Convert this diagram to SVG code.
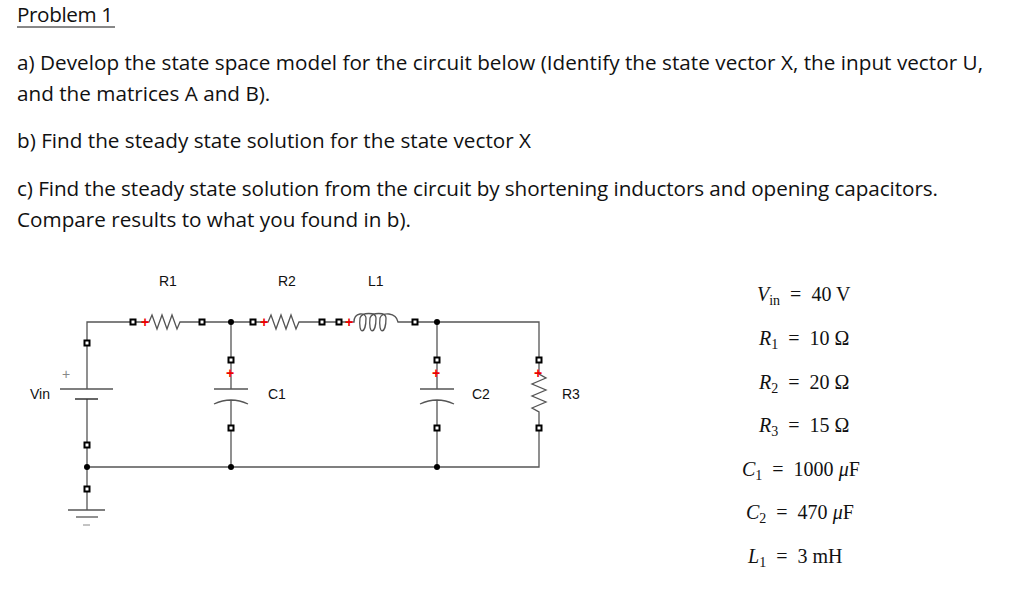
<svg xmlns="http://www.w3.org/2000/svg" width="1024" height="594" viewBox="0 0 1024 594">
<style>
.t{font-family:"Open Sans","Liberation Sans",sans-serif;font-size:20.7px;fill:#111}
.l{font-family:"Liberation Sans",Arial,sans-serif;font-size:14px;fill:#111}
.m{font-family:"Liberation Serif","Times New Roman",serif;font-size:20px;fill:#111;white-space:pre}
.i{font-style:italic}
.w{stroke:#555;stroke-width:1.3;fill:none}
.p{fill:#e00;font-family:"Liberation Sans",sans-serif;font-size:14px;font-weight:bold}
</style>
<defs>
<g id="sq"><rect x="-3.5" y="-3.5" width="7" height="7" fill="#000"/><rect x="-1.5" y="-1.5" width="3" height="3" fill="#fff"/></g>
</defs>
<rect width="1024" height="594" fill="#fff"/>
<g id="text">
<text class="t" x="17" y="22" textLength="96">Problem 1</text>
<line x1="17" y1="27" x2="115" y2="27" stroke="#111" stroke-width="1"/>
<text class="t" x="17" y="70" textLength="966">a) Develop the state space model for the circuit below (Identify the state vector X, the input vector U,</text>
<text class="t" x="17" y="101">and the matrices A and B).</text>
<text class="t" x="17" y="148" textLength="514">b) Find the steady state solution for the state vector X</text>
<text class="t" x="17" y="196" textLength="921">c) Find the steady state solution from the circuit by shortening inductors and opening capacitors.</text>
<text class="t" x="17" y="227">Compare results to what you found in b).</text>
</g>
<g id="connectors">
<path class="w" d="M87 343 V322 H133 M202 322 H253 M322 322 H339 M415 322 H539 V360 M539 428 V467 H87 V489 M87 343 V389 M87 399 V445 V467"/>
<path class="w" d="M87 489 V510 M231 322 V360 M231 428 V467 M437 322 V360 M437 428 V467"/>
</g>
<g id="Vin">
<line x1="60" y1="389" x2="113" y2="389" stroke="#555" stroke-width="1.3"/>
<line x1="75" y1="399" x2="98" y2="399" stroke="#333" stroke-width="1.5"/>
<text class="l" x="62" y="379" style="fill:#888">+</text>
<text class="l" x="30" y="399">Vin</text>
<use href="#sq" x="87" y="343"/><use href="#sq" x="87" y="445"/><use href="#sq" x="87" y="489"/>
<circle cx="87" cy="467" r="3" fill="#000"/>
</g>
<g id="ground">
<line x1="68" y1="510" x2="105" y2="510" stroke="#555" stroke-width="1.3"/>
<line x1="76" y1="517" x2="98" y2="517" stroke="#555" stroke-width="1.3"/>
<line x1="83" y1="525" x2="90" y2="525" stroke="#888" stroke-width="1"/>
</g>
<g id="R1">
<path class="w" d="M133 322 H149 L152 315 L157 329 L162 315 L167 329 L172 315 L177 329 L180 322 H202"/>
<use href="#sq" x="133" y="322"/><use href="#sq" x="202" y="322"/>
<text class="p" x="141" y="327">+</text>
<text class="l" x="159" y="286">R1</text>
</g>
<circle cx="231" cy="322" r="3" fill="#000"/>
<circle cx="231" cy="467" r="3" fill="#000"/>
<g id="R2">
<path class="w" d="M253 322 H268 L271 315 L276 329 L281 315 L286 329 L291 315 L296 329 L299 322 H322"/>
<use href="#sq" x="253" y="322"/><use href="#sq" x="322" y="322"/>
<text class="p" x="260" y="327">+</text>
<text class="l" x="278" y="286">R2</text>
</g>
<g id="L1">
<path class="w" d="M339 322 H354 C354 312 366 312 366 318 C366 335 358 335 360 318 C362 312 376 312 376 318 C376 335 368 335 370 318 C372 312 386 312 386 318 C386 335 378 335 380 318 C382 312 396 312 398 322 H415"/>
<use href="#sq" x="339" y="322"/><use href="#sq" x="415" y="322"/>
<text class="p" x="345" y="327">+</text>
<text class="l" x="368" y="286">L1</text>
</g>
<circle cx="437" cy="322" r="3" fill="#000"/>
<circle cx="437" cy="467" r="3" fill="#000"/>
<g id="C1">
<path class="w" d="M231 360 V389 M214 389 H248 M214 404 Q231 396 248 404 M231 400 V428"/>
<use href="#sq" x="231" y="360"/><use href="#sq" x="231" y="428"/>
<text class="p" x="226" y="378">+</text>
<text class="l" x="268" y="399">C1</text>
</g>
<g id="C2">
<path class="w" d="M437 360 V389 M420 389 H454 M420 404 Q437 396 454 404 M437 400 V428"/>
<use href="#sq" x="437" y="360"/><use href="#sq" x="437" y="428"/>
<text class="p" x="432" y="378">+</text>
<text class="l" x="472" y="399">C2</text>
</g>
<g id="R3">
<path class="w" d="M539 360 V374 L546 378 L532 384 L546 390 L532 396 L546 402 L532 408 L539 412 V428"/>
<use href="#sq" x="539" y="360"/><use href="#sq" x="539" y="428"/>
<text class="p" x="534" y="378">+</text>
<text class="l" x="562" y="399">R3</text>
</g>
<g id="values">
<text class="m" x="757" y="301"><tspan class="i">V</tspan><tspan font-size="14" dy="4">in</tspan><tspan dy="-4">  =  40 V</tspan></text>
<text class="m" x="759" y="345"><tspan class="i">R</tspan><tspan font-size="14" dy="4">1</tspan><tspan dy="-4">  =  10 Ω</tspan></text>
<text class="m" x="759" y="389"><tspan class="i">R</tspan><tspan font-size="14" dy="4">2</tspan><tspan dy="-4">  =  20 Ω</tspan></text>
<text class="m" x="759" y="432"><tspan class="i">R</tspan><tspan font-size="14" dy="4">3</tspan><tspan dy="-4">  =  15 Ω</tspan></text>
<text class="m" x="742" y="476"><tspan class="i">C</tspan><tspan font-size="14" dy="4">1</tspan><tspan dy="-4">  =  1000 </tspan><tspan class="i">μ</tspan><tspan>F</tspan></text>
<text class="m" x="746" y="519"><tspan class="i">C</tspan><tspan font-size="14" dy="4">2</tspan><tspan dy="-4">  =  470 </tspan><tspan class="i">μ</tspan><tspan>F</tspan></text>
<text class="m" x="748" y="563"><tspan class="i">L</tspan><tspan font-size="14" dy="4">1</tspan><tspan dy="-4">  =  3 mH</tspan></text>
</g>
</svg>
